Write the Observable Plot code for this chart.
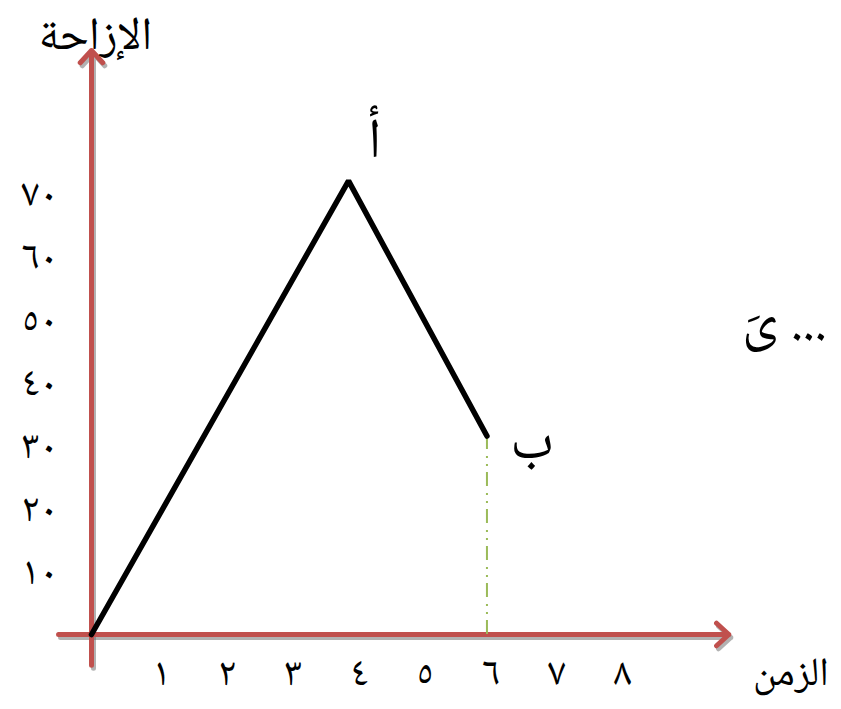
<!DOCTYPE html>
<html><head><meta charset="utf-8">
<script src="https://cdn.jsdelivr.net/npm/d3@7"></script>
<script src="https://cdn.jsdelivr.net/npm/@observablehq/plot@0.6"></script>
<style>
html,body{margin:0;padding:0;background:#fff;overflow:hidden;}
</style></head>
<body><div id="chart"></div>
<script>
// Data
const times = [0, 3.9, 6];
const displacement = [0, 72, 31.5];
const pointLabels = ["", "أ", "ب"];
const xTicks = [1, 2, 3, 4, 5, 6, 7, 8];
const xTickLabels = ["١", "٢", "٣", "٤", "٥", "٦", "٧", "٨"];
const yTicks = [10, 20, 30, 40, 50, 60, 70];
const yTickLabels = ["١٠", "٢٠", "٣٠", "٤٠", "٥٠", "٦٠", "٧٠"];
const xAxisTitle = "الزمن";
const yAxisTitle = "الإزاحة";
const sideNote = "ىَ ...";
const xAxisExtent = [-0.5, 9.67];
const yAxisExtent = [-4.9, 92.7];

const pts = times.map((t, i) => ({t, d: displacement[i], label: pointLabels[i]}));
const axes = [
  {x1: 0, y1: yAxisExtent[0], x2: 0, y2: yAxisExtent[1]},
  {x1: xAxisExtent[0], y1: 0, x2: xAxisExtent[1], y2: 0}
];
const red = "#c0504d";
const green = "#9bbb59";
const font = "'Noto Naskh Arabic', 'Amiri', 'DejaVu Sans', serif";

const chart = Plot.plot({
  width: 841,
  height: 709,
  marginLeft: 91,
  marginRight: 25,
  marginTop: 4,
  marginBottom: 75,
  x: {domain: [0, 11], axis: null},
  y: {domain: [0, 100], axis: null},
  style: {fontFamily: font, background: "white", color: "black"},
  marks: [
    // shadows
    Plot.arrow(axes, {x1: "x1", y1: "y1", x2: "x2", y2: "y2", stroke: "#666", strokeOpacity: 0.5, strokeWidth: 5, headLength: 5, headAngle: 85, dx: 2, dy: 3, ariaLabel: "shadow"}),
    Plot.line(pts, {x: "t", y: "d", stroke: "#666", strokeOpacity: 0.45, strokeWidth: 5.5, strokeLinejoin: "miter", dx: 2, dy: 3, ariaLabel: "shadow"}),
    // axes
    Plot.arrow(axes, {x1: "x1", y1: "y1", x2: "x2", y2: "y2", stroke: red, strokeWidth: 5, headLength: 5, headAngle: 85}),
    // dash-dot drop line
    Plot.ruleX([pts[2]], {x: "t", y1: 0, y2: "d", stroke: green, strokeWidth: 2, strokeDasharray: "14,6,2,6,2,7"}),
    // the displacement line
    Plot.line(pts, {x: "t", y: "d", stroke: "black", strokeWidth: 5.5, strokeLinejoin: "miter"}),
    // tick labels
    Plot.text(yTicks, {y: d => d, text: (d, i) => yTickLabels[i], frameAnchor: "left", textAnchor: "end", dx: -34, fontSize: 40}),
    Plot.text(xTicks, {x: d => d, text: (d, i) => xTickLabels[i], frameAnchor: "bottom", dx: 4, dy: 50, fontSize: 40}),
    // point labels
    Plot.text([pts[1]], {x: "t", y: "d", text: "label", dx: 26, dy: -42, fontSize: 56}),
    Plot.text([pts[2]], {x: "t", y: "d", text: "label", dx: 45, dy: 4, fontSize: 56}),
    // axis titles
    Plot.text([axes[0]], {x: "x2", y: "y2", text: () => yAxisTitle, dx: 4, dy: -16, fontSize: 46}),
    Plot.text([axes[1]], {x: "x2", y: "y2", text: () => xAxisTitle, textAnchor: "end", dx: 100, dy: 38, fontSize: 40}),
    // side note
    Plot.text([pts[2]], {x: "t", y: "d", text: () => sideNote, textAnchor: "start", dx: 255, dy: -118, fontSize: 58})
  ]
});
d3.select(chart).selectAll('[aria-label="shadow"]').style("filter", "blur(1.5px)");
document.getElementById("chart").appendChild(chart);
</script>
</body></html>
